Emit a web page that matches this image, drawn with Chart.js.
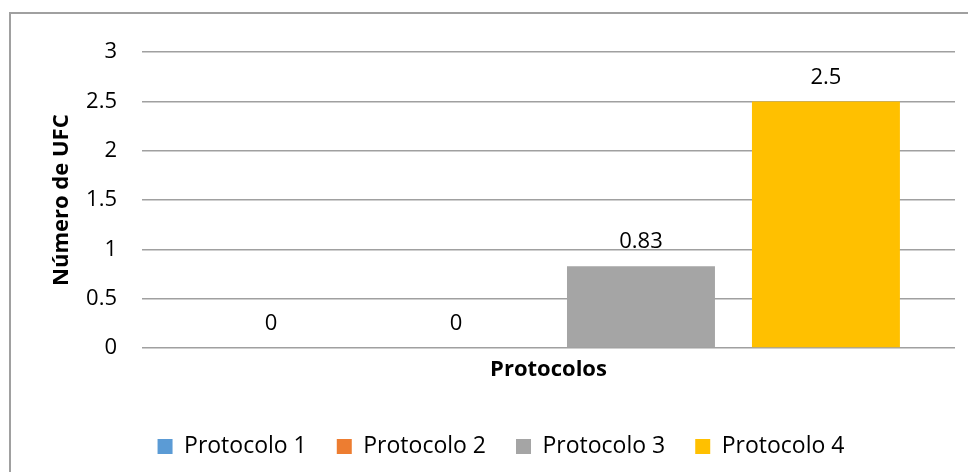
<!DOCTYPE html>
<html>
<head>
<meta charset="utf-8">
<script src="https://cdn.jsdelivr.net/npm/chart.js@4.4.0/dist/chart.umd.min.js"></script>
<style>
  html, body { margin: 0; padding: 0; background: #fff; overflow: hidden; width: 968px; height: 472px; }
  #box { position: absolute; left: 9px; top: 12px; width: 990px; height: 490px; border: 2px solid #a0a0a0; }
  #wrap { position: absolute; left: 0; top: 0; width: 980px; height: 454px; }
</style>
</head>
<body>
<div id="box"><div id="wrap"><canvas id="chart"></canvas></div></div>
<script>
// datos
const categorias = [""];
const protocolos = ["Protocolo 1", "Protocolo 2", "Protocolo 3", "Protocolo 4"];
const valores = [[0], [0], [0.83], [2.5]];
const etiquetas = ["0", "0", "0.83", "2.5"];
const colores = ["#5B9BD5", "#ED7D31", "#A5A5A5", "#FFC000"];
const yTicks = [0, 0.5, 1, 1.5, 2, 2.5, 3];

const fuente = "'Open Sans', sans-serif";

// etiquetas encima de las barras
const etiquetasPlugin = {
  id: "etiquetas",
  afterDatasetsDraw(chart) {
    const ctx = chart.ctx;
    ctx.save();
    ctx.font = "22px " + fuente;
    ctx.fillStyle = "#000";
    ctx.textAlign = "center";
    ctx.textBaseline = "alphabetic";
    chart.data.datasets.forEach((ds, i) => {
      const meta = chart.getDatasetMeta(i);
      meta.data.forEach(bar => {
        ctx.fillText(etiquetas[i], bar.x, bar.y - 18);
      });
    });
    ctx.restore();
  }
};

const datasets = protocolos.map((p, i) => ({
  label: p,
  data: valores[i],
  backgroundColor: colores[i],
  borderWidth: 0,
  barPercentage: 0.8,
  categoryPercentage: 0.91
}));

new Chart(document.getElementById("chart"), {
  type: "bar",
  data: { labels: categorias, datasets: datasets },
  options: {
    responsive: true,
    maintainAspectRatio: false,
    animation: false,
    layout: { padding: { top: 19, right: 36, left: 36, bottom: 0 } },
    plugins: {
      tooltip: { enabled: false },
      legend: {
        position: "bottom",
        labels: {
          font: { family: fuente, size: 23 },
          color: "#000",
          boxWidth: 15,
          boxHeight: 15,
          padding: 30
        }
      }
    },
    scales: {
      x: {
        grid: { display: false },
        border: { display: false },
        ticks: { display: false },
        title: {
          display: true,
          text: "Protocolos",
          color: "#000",
          font: { family: fuente, size: 22, weight: "bold" },
          padding: { top: 0, bottom: 22 }
        },
        afterFit: (axis) => { axis.height = 57; }
      },
      y: {
        min: 0,
        max: 3,
        afterBuildTicks: (axis) => { axis.ticks = yTicks.map(v => ({ value: v })); },
        ticks: {
          color: "#000",
          padding: 25,
          font: { family: fuente, size: 22 },
          callback: (v) => String(v)
        },
        grid: { color: "#a0a0a0", lineWidth: 1.5, drawTicks: false },
        border: { display: false },
        title: {
          display: true,
          text: "Número de UFC",
          color: "#000",
          font: { family: fuente, size: 22, weight: "bold" },
          padding: { top: 2, bottom: 0 }
        },
        afterFit: (axis) => { axis.width = 95; }
      }
    }
  },
  plugins: [etiquetasPlugin]
});
</script>
</body>
</html>
